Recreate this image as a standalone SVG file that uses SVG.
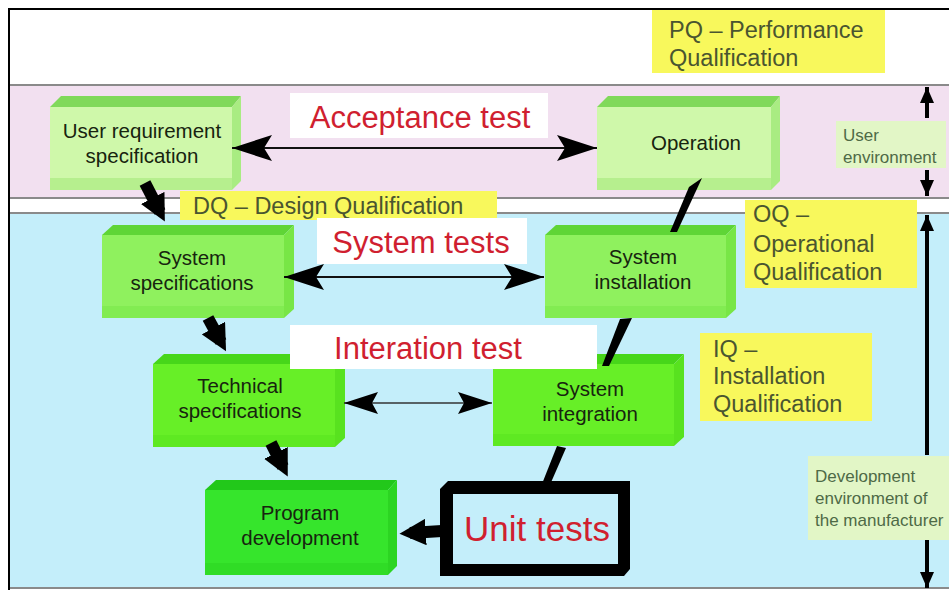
<svg xmlns="http://www.w3.org/2000/svg" width="949" height="590" viewBox="0 0 949 590">
  <defs>
    <style>
      .node { font-family: "Liberation Sans", Arial, sans-serif; font-size: 20.5px; fill: #17240f; text-anchor: middle; }
      .test { font-family: "Liberation Sans", Arial, sans-serif; fill: #d01f30; text-anchor: middle; }
      .qual { font-family: "Liberation Sans", Arial, sans-serif; font-size: 23.5px; fill: #4a5530; }
      .env { font-family: "Liberation Sans", Arial, sans-serif; font-size: 17px; fill: #4e6a46; }
      .band { stroke: #8a8a8a; stroke-width: 2; }
      .thin { stroke: #111; stroke-width: 2; fill: none; }
      .thick { stroke: #000; stroke-width: 12; fill: none; }
      .pale .f { fill: #cff8aa; } .pale .t { fill: #80d95a; } .pale .r { fill: #a9ec82; } .pale .b { fill: #b6ef8e; }
      .mid .f { fill: #8ff15e; } .mid .t { fill: #5fd536; } .mid .r { fill: #78e646; } .mid .b { fill: #82ec52; }
      .lime .f { fill: #67ef27; } .lime .t { fill: #47d61a; } .lime .r { fill: #58e21f; } .lime .b { fill: #5ee922; }
      .deep .f { fill: #36e52c; } .deep .t { fill: #22c81a; } .deep .r { fill: #2cd522; } .deep .b { fill: #30dc26; }
    </style>
    <marker id="head" viewBox="0 0 40 26" refX="40" refY="13" markerWidth="40" markerHeight="26" markerUnits="userSpaceOnUse" orient="auto-start-reverse">
      <path d="M0,0 L40,13 L0,26 L8,13 Z" fill="#000"/>
    </marker>
    <marker id="headSmall" viewBox="0 0 34 22" refX="34" refY="11" markerWidth="34" markerHeight="22" markerUnits="userSpaceOnUse" orient="auto-start-reverse">
      <path d="M0,0 L34,11 L0,22 L6,11 Z" fill="#000"/>
    </marker>
    <marker id="fat" viewBox="0 0 10 10" refX="6" refY="5" markerWidth="2.2" markerHeight="2.2" orient="auto">
      <path d="M0,0 L10,5 L0,10 Z" fill="#000"/>
    </marker>
    <marker id="vhead" viewBox="0 0 16 16" refX="16" refY="8" markerWidth="16" markerHeight="16" markerUnits="userSpaceOnUse" orient="auto-start-reverse">
      <path d="M0,1 L16,8 L0,15 Z" fill="#000"/>
    </marker>
  </defs>

  <!-- background bands -->
  <rect x="0" y="0" width="949" height="590" fill="#ffffff"/>
  <rect x="9" y="85" width="940" height="113" fill="#f2e0f0"/>
  <rect x="9" y="213" width="940" height="375" fill="#c4eefa"/>
  <line class="band" x1="9" y1="85" x2="949" y2="85"/>
  <line class="band" x1="9" y1="198" x2="949" y2="198"/>
  <line class="band" x1="9" y1="213" x2="949" y2="213"/>
  <line class="band" x1="9" y1="588" x2="949" y2="588"/>
  <!-- frame -->
  <line x1="8" y1="9" x2="949" y2="9" stroke="#000" stroke-width="2"/>
  <line x1="9" y1="8" x2="9" y2="590" stroke="#000" stroke-width="2"/>

  <!-- qualification notes -->
  <g id="pq">
    <rect x="652" y="10" width="233" height="63" fill="#f8f85c"/>
    <text class="qual" x="669" y="38">PQ – Performance</text>
    <text class="qual" x="669" y="66">Qualification</text>
  </g>
  <g id="user-env">
    <rect x="836" y="121" width="110" height="47" fill="#e2f6c6"/>
    <text class="env" x="843" y="141">User</text>
    <text class="env" x="843" y="163">environment</text>
  </g>
  <g id="dev-env">
    <rect x="808" y="456" width="141" height="84" fill="#e2f6c6"/>
    <text class="env" x="815" y="482">Development</text>
    <text class="env" x="815" y="504">environment of</text>
    <text class="env" x="815" y="526">the manufacturer</text>
  </g>

  <g id="dq">
    <rect x="180" y="191" width="317" height="29" fill="#f8f85c"/>
    <text class="qual" x="193" y="214">DQ – Design Qualification</text>
  </g>
  <g id="oq">
    <rect x="745" y="200" width="172" height="88" fill="#f8f85c"/>
    <text class="qual" x="753" y="222">OQ –</text>
    <text class="qual" x="753" y="252">Operational</text>
    <text class="qual" x="753" y="280">Qualification</text>
  </g>
  <g id="iq">
    <rect x="700" y="333" width="172" height="88" fill="#f8f85c"/>
    <text class="qual" x="713" y="357">IQ –</text>
    <text class="qual" x="713" y="384">Installation</text>
    <text class="qual" x="713" y="412">Qualification</text>
  </g>

  <!-- nodes: front face, top bevel, right bevel, bottom edge -->
  <g id="user-requirement" class="pale">
    <rect class="f" x="50" y="107" width="182" height="83"/>
    <rect class="b" x="50" y="178" width="182" height="12"/>
    <polygon class="t" points="50,107 61,96 241,96 232,107"/>
    <polygon class="r" points="232,107 241,96 241,181 232,190"/>
    <text class="node" x="142" y="138">User requirement</text>
    <text class="node" x="142" y="163">specification</text>
  </g>
  <g id="operation" class="pale">
    <rect class="f" x="597" y="107" width="174" height="83"/>
    <rect class="b" x="597" y="178" width="174" height="12"/>
    <polygon class="t" points="597,107 608,96 780,96 771,107"/>
    <polygon class="r" points="771,107 780,96 780,181 771,190"/>
    <text class="node" x="696" y="150">Operation</text>
  </g>
  <g id="system-specifications" class="mid">
    <rect class="f" x="102" y="235" width="182" height="83"/>
    <rect class="b" x="102" y="306" width="182" height="12"/>
    <polygon class="t" points="102,235 113,225 294,225 284,235"/>
    <polygon class="r" points="284,235 294,225 294,309 284,318"/>
    <text class="node" x="192" y="265">System</text>
    <text class="node" x="192" y="290">specifications</text>
  </g>
  <g id="system-installation" class="mid">
    <rect class="f" x="545" y="235" width="181" height="83"/>
    <rect class="b" x="545" y="306" width="181" height="12"/>
    <polygon class="t" points="545,235 556,225 736,225 726,235"/>
    <polygon class="r" points="726,235 736,225 736,309 726,318"/>
    <text class="node" x="643" y="264">System</text>
    <text class="node" x="643" y="289">installation</text>
  </g>
  <g id="technical-specifications" class="lime">
    <rect class="f" x="153" y="364" width="182" height="83"/>
    <rect class="b" x="153" y="435" width="182" height="12"/>
    <polygon class="t" points="153,364 164,354 345,354 335,364"/>
    <polygon class="r" points="335,364 345,354 345,438 335,447"/>
    <text class="node" x="240" y="393">Technical</text>
    <text class="node" x="240" y="418">specifications</text>
  </g>
  <g id="system-integration" class="lime">
    <rect class="f" x="493" y="364" width="181" height="82"/>
    <rect class="b" x="493" y="434" width="181" height="12"/>
    <polygon class="t" points="493,364 504,354 684,354 674,364"/>
    <polygon class="r" points="674,364 684,354 684,437 674,446"/>
    <text class="node" x="590" y="396">System</text>
    <text class="node" x="590" y="421">integration</text>
  </g>
  <g id="program-development" class="deep">
    <rect class="f" x="205" y="490" width="183" height="85"/>
    <rect class="b" x="205" y="563" width="183" height="12"/>
    <polygon class="t" points="205,490 216,480 397,480 388,490"/>
    <polygon class="r" points="388,490 397,480 397,566 388,575"/>
    <text class="node" x="300" y="520">Program</text>
    <text class="node" x="300" y="545">development</text>
  </g>
  <g id="unit-tests">
    <polygon points="440,489 448,481 630,481 630,569 624,576 440,576" fill="#000"/>
    <rect x="453" y="494" width="165" height="70" fill="#c4eefa"/>
    <text class="test" x="537" y="541" font-size="35">Unit tests</text>
  </g>

  <!-- test labels -->
  <g id="acceptance-test">
    <rect x="290" y="93" width="258" height="45" fill="#ffffff"/>
    <text class="test" x="420" y="128" font-size="31">Acceptance test</text>
  </g>
  <g id="system-tests">
    <rect x="317" y="218" width="210" height="46" fill="#ffffff"/>
    <text class="test" x="421" y="253" font-size="31">System tests</text>
  </g>
  <g id="integration-test">
    <rect x="290" y="325" width="307" height="44" fill="#ffffff"/>
    <text class="test" x="428" y="359" font-size="31">Interation test</text>
  </g>

  <!-- connectors -->
  <g id="connectors">
    <!-- test relations -->
    <line class="thin" x1="232" y1="148" x2="597" y2="148" marker-start="url(#head)" marker-end="url(#head)"/>
    <line class="thin" x1="284" y1="277" x2="544" y2="277" marker-start="url(#head)" marker-end="url(#head)"/>
    <line x1="344" y1="403" x2="492" y2="403" stroke="#333" stroke-width="1.3" marker-start="url(#headSmall)" marker-end="url(#headSmall)"/>
    <!-- descending branch -->
    <line class="thick" x1="145" y1="183" x2="160" y2="212" marker-end="url(#fat)"/>
    <line class="thick" x1="208" y1="318" x2="221" y2="342" marker-end="url(#fat)"/>
    <line class="thick" x1="271" y1="443" x2="283" y2="467" marker-end="url(#fat)"/>
    <!-- unit tests to program development -->
    <line class="thick" x1="442" y1="531" x2="410" y2="533" marker-end="url(#fat)"/>
    <!-- ascending branch -->
    <polygon points="538,494 546,494 566,448 557,446" fill="#000"/>
    <polygon points="602,366 609,366 632,318 620,319" fill="#000"/>
    <polygon points="670,232 677,232 702,178 689,187" fill="#000"/>
    <!-- environment extents -->
    <line x1="927" y1="118" x2="927" y2="87" stroke="#000" stroke-width="4" marker-end="url(#vhead)"/>
    <line x1="927" y1="170" x2="927" y2="196" stroke="#000" stroke-width="4" marker-end="url(#vhead)"/>
    <line x1="927" y1="455" x2="927" y2="215" stroke="#000" stroke-width="4" marker-end="url(#vhead)"/>
    <line x1="927" y1="540" x2="927" y2="588" stroke="#000" stroke-width="4" marker-end="url(#vhead)"/>
  </g>
</svg>
